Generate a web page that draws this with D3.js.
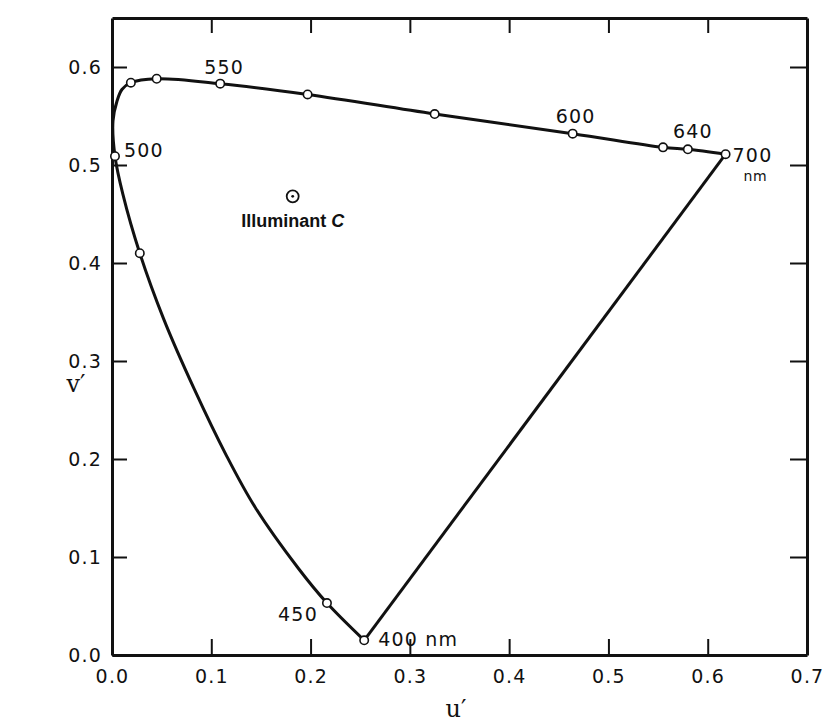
<!DOCTYPE html>
<html>
<head>
<meta charset="utf-8">
<script src="https://cdn.jsdelivr.net/npm/d3@7"></script>
<style>
  body { margin: 0; background: #fff; }
  .tick text { font-family: "DejaVu Sans", sans-serif; font-size: 19px; letter-spacing: 1.2px; fill: #111; }
  .lab { font-family: "DejaVu Sans", sans-serif; font-size: 19px; letter-spacing: 1.2px; fill: #111; }
</style>
</head>
<body>
<script>
// spectrum locus (u', v'), from 400 nm round to 700 nm
const locusU = [0.254, 0.2165, 0.188, 0.144, 0.115, 0.083, 0.052, 0.028, 0.011, 0.003, 0.001, 0.005, 0.010, 0.019, 0.045, 0.109, 0.197, 0.325, 0.464, 0.555, 0.580, 0.618];
const locusV = [0.015, 0.053, 0.088, 0.151, 0.204, 0.271, 0.343, 0.410, 0.470, 0.509, 0.545, 0.565, 0.577, 0.584, 0.588, 0.583, 0.572, 0.552, 0.532, 0.518, 0.516, 0.511];
// which locus points carry an open circle
const marked = [1, 1, 0, 0, 0, 0, 0, 1, 0, 1, 0, 0, 0, 1, 1, 1, 1, 1, 1, 1, 1, 1];
// wavelength labels: locus index and text
const waveIdx = [0, 1, 9, 15, 18, 20, 21];
const waveText = ["400 nm", "450", "500", "550", "600", "640", "700"];
const illumU = 0.182, illumV = 0.468;
const xTicks = [0, 0.1, 0.2, 0.3, 0.4, 0.5, 0.6, 0.7];
const yTicks = [0, 0.1, 0.2, 0.3, 0.4, 0.5, 0.6];

const W = 828, H = 726;
const svg = d3.select("body").append("svg").attr("width", W).attr("height", H);

const x = d3.scaleLinear().domain([0, 0.7]).range([112, 807]);
const y = d3.scaleLinear().domain([0, 0.65]).range([655, 18]);

// axes, ticks pointing inwards
svg.append("g").attr("transform", "translate(0,655)")
   .call(d3.axisBottom(x).tickValues(xTicks).tickFormat(d3.format(".1f")).tickSizeInner(-16).tickSizeOuter(0).tickPadding(15));
svg.append("g").attr("transform", "translate(112,0)")
   .call(d3.axisLeft(y).tickValues(yTicks).tickFormat(d3.format(".1f")).tickSizeInner(-15).tickSizeOuter(0).tickPadding(10));
svg.append("g").attr("transform", "translate(0,18)")
   .call(d3.axisTop(x).tickValues(xTicks.slice(1, 7)).tickFormat("").tickSizeInner(-15).tickSizeOuter(0));
svg.append("g").attr("transform", "translate(807,0)")
   .call(d3.axisRight(y).tickValues(yTicks.slice(1)).tickFormat("").tickSizeInner(-17).tickSizeOuter(0));

svg.selectAll(".domain").attr("stroke", "#111").attr("stroke-width", 3);
svg.selectAll(".tick line").attr("stroke", "#111").attr("stroke-width", 2);
svg.selectAll(".tick text").attr("fill", "#111");

const pts = locusU.map((u, i) => ({u: u, v: locusV[i], m: marked[i]}));

const line = d3.line()
    .x(d => x(d.u))
    .y(d => y(d.v))
    .curve(d3.curveCatmullRom.alpha(0.5));

svg.append("path").datum(pts)
   .attr("d", line)
   .attr("fill", "none").attr("stroke", "#111").attr("stroke-width", 3);

// purple line 400 -> 700
svg.append("path").datum([pts[0], pts[pts.length - 1]])
   .attr("d", d3.line().x(d => x(d.u)).y(d => y(d.v)))
   .attr("fill", "none").attr("stroke", "#111").attr("stroke-width", 3);

svg.selectAll("circle.pt")
   .data(pts.filter(d => d.m))
   .enter().append("circle")
   .attr("class", "pt")
   .attr("cx", d => x(d.u))
   .attr("cy", d => y(d.v))
   .attr("r", 4.2)
   .attr("fill", "#fff").attr("stroke", "#111").attr("stroke-width", 1.6);

// wavelength labels
const offs = {
  "400 nm": [14, 6, "start"], "450": [-9, 18, "end"], "500": [9, 1, "start"],
  "550": [4, -10, "middle"], "600": [3, -11, "middle"], "640": [5, -11, "middle"],
  "700": [7, 8, "start"]
};
waveIdx.forEach((k, i) => {
  const o = offs[waveText[i]];
  svg.append("text").attr("class", "lab")
     .attr("x", x(locusU[k]) + o[0])
     .attr("y", y(locusV[k]) + o[1])
     .attr("text-anchor", o[2])
     .text(waveText[i]);
});
svg.append("text").attr("class", "lab")
   .attr("x", x(locusU[21]) + 18).attr("y", y(locusV[21]) + 27)
   .style("font-size", "14px").style("letter-spacing", "0.5px")
   .text("nm");

// illuminant C
svg.append("circle").attr("cx", x(illumU)).attr("cy", y(illumV)).attr("r", 6)
   .attr("fill", "#fff").attr("stroke", "#111").attr("stroke-width", 1.8);
svg.append("circle").attr("cx", x(illumU)).attr("cy", y(illumV)).attr("r", 1.4).attr("fill", "#111");
const il = svg.append("text")
   .attr("x", x(illumU)).attr("y", y(illumV) + 31)
   .attr("text-anchor", "middle")
   .style("font-family", "'Liberation Sans Narrow', 'Liberation Sans', sans-serif")
   .style("font-size", "18px").style("font-weight", "bold").attr("fill", "#111");
il.append("tspan").text("Illuminant ");
il.append("tspan").style("font-style", "italic").text("C");

// axis titles
svg.append("text").attr("x", 76).attr("y", 392).attr("text-anchor", "middle")
   .style("font-family", "'DejaVu Serif', serif").style("font-size", "24px").attr("fill", "#111")
   .text("v\u2032");
svg.append("text").attr("x", 456).attr("y", 717).attr("text-anchor", "middle")
   .style("font-family", "'DejaVu Serif', serif").style("font-size", "24px").attr("fill", "#111")
   .text("u\u2032");
</script>
</body>
</html>
